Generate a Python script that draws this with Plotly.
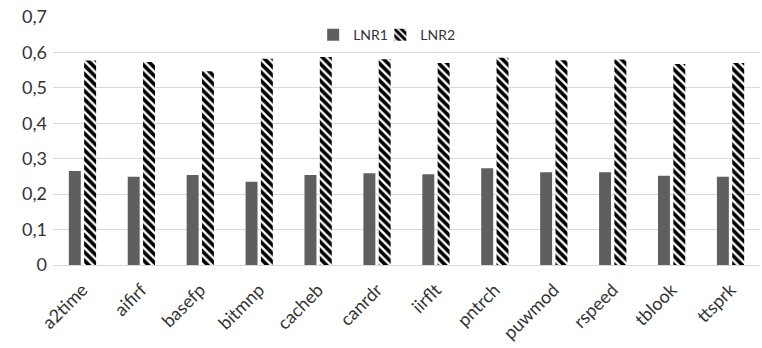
import plotly.graph_objects as go

benchmarks = ["a2time", "aifirf", "basefp", "bitmnp", "cacheb", "canrdr",
              "iirflt", "pntrch", "puwmod", "rspeed", "tblook", "ttsprk"]
lnr1 = [0.265, 0.249, 0.254, 0.235, 0.254, 0.259, 0.256, 0.273, 0.262, 0.262, 0.252, 0.249]
lnr2 = [0.577, 0.573, 0.547, 0.582, 0.587, 0.581, 0.570, 0.585, 0.578, 0.580, 0.567, 0.570]
y_ticks = [0, 0.1, 0.2, 0.3, 0.4, 0.5, 0.6, 0.7]
y_labels = ["0", "0,1", "0,2", "0,3", "0,4", "0,5", "0,6", "0,7"]

font_family = "Lato, Open Sans, sans-serif"
text_color = "#333333"

fig = go.Figure()
fig.add_trace(go.Bar(
    x=benchmarks, y=lnr1, name="LNR1", legend="legend",
    marker=dict(color="#5f5f5f", line=dict(width=0)),
))
fig.add_trace(go.Bar(
    x=benchmarks, y=lnr2, name="LNR2", legend="legend2",
    marker=dict(
        color="white",
        line=dict(width=0),
        pattern=dict(shape="\\", fgcolor="#000000", bgcolor="white",
                     fgopacity=1, fillmode="replace",
                     size=6, solidity=0.62),
    ),
))

legend_style = dict(orientation="h", xanchor="left", y=0.927, yanchor="middle",
                    font=dict(size=14, color=text_color),
                    bgcolor="rgba(0,0,0,0)", itemwidth=30)

fig.update_layout(
    width=762, height=348,
    margin=dict(l=53, r=2, t=17, b=83),
    paper_bgcolor="white", plot_bgcolor="white",
    barmode="group", bargap=0.48, bargroupgap=0.22,
    font=dict(family=font_family, color=text_color),
    showlegend=True,
    legend=dict(x=0.368, **legend_style),
    legend2=dict(x=0.463, **legend_style),
    xaxis=dict(tickangle=-45, tickfont=dict(size=18, color=text_color),
               showgrid=False, showline=False, ticks="", ticklabelstandoff=10),
    yaxis=dict(range=[0, 0.7], tickvals=y_ticks, ticktext=y_labels,
               tickfont=dict(size=18, color=text_color),
               showgrid=True, gridcolor="#d9d9d9", gridwidth=1,
               zeroline=True, zerolinecolor="#d9d9d9", zerolinewidth=1,
               showline=False, ticks="", ticklabelstandoff=5),
)

fig.write_html("out.html")
